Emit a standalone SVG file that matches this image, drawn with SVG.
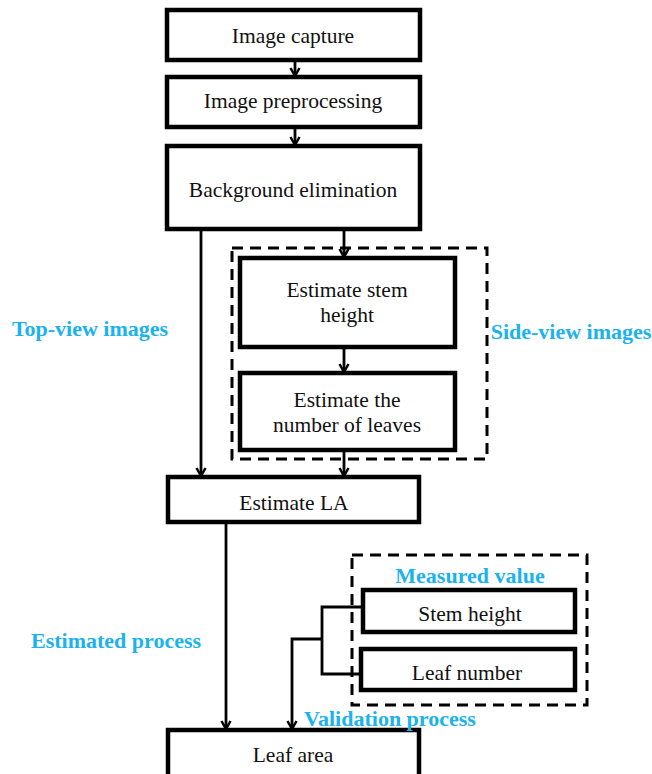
<svg xmlns="http://www.w3.org/2000/svg" width="652" height="774" viewBox="0 0 652 774">
<defs>
<marker id="ah" markerWidth="12" markerHeight="12" refX="10" refY="6" orient="auto" markerUnits="userSpaceOnUse">
<path d="M2,1.5 L10,6 L2,10.5" fill="none" stroke="#000" stroke-width="2.5"/>
</marker>
<style>
.box{fill:#fff;stroke:#000;stroke-width:4.5}
.dash{fill:none;stroke:#000;stroke-width:3;stroke-dasharray:11 7}
.t{font-family:"Liberation Serif","Times New Roman",serif;font-size:21.5px;fill:#111;text-anchor:middle}
.lbl{font-family:"Liberation Serif","Times New Roman",serif;font-size:22px;font-weight:bold;fill:#1ab2ef;text-anchor:middle}
.c{fill:none;stroke:#000;stroke-width:2.8}
</style>
</defs>
<rect width="652" height="774" fill="#fff"/>
<g id="groups">
<rect id="side-view-group" class="dash" x="232" y="248" width="255" height="211"/>
<rect id="measured-group" class="dash" x="352" y="555" width="235" height="150"/>
</g>
<g id="connectors">
<path class="c" d="M295,60 V76" marker-end="url(#ah)"/>
<path class="c" d="M295,127 V145" marker-end="url(#ah)"/>
<path class="c" d="M201,229 V476" marker-end="url(#ah)"/>
<path class="c" d="M344,229 V257" marker-end="url(#ah)"/>
<path class="c" d="M344,347 V372" marker-end="url(#ah)"/>
<path class="c" d="M344,450 V476" marker-end="url(#ah)"/>
<path class="c" d="M226,522 V729" marker-end="url(#ah)"/>
<path class="c" d="M363,607 H322 V674 H361"/>
<path class="c" d="M322,639 H292 V729" marker-end="url(#ah)"/>
</g>
<g id="n1"><rect class="box" x="167" y="10" width="253" height="50"/><text class="t" x="293" y="43">Image capture</text></g>
<g id="n2"><rect class="box" x="167" y="77" width="253" height="50"/><text class="t" x="293" y="108">Image preprocessing</text></g>
<g id="n3"><rect class="box" x="167" y="146" width="253" height="83"/><text class="t" x="293" y="197">Background elimination</text></g>
<g id="n4"><rect class="box" x="240" y="258" width="215" height="89"/><text class="t" x="347" y="297">Estimate stem</text><text class="t" x="347" y="322">height</text></g>
<g id="n5"><rect class="box" x="240" y="373" width="215" height="77"/><text class="t" x="347" y="407">Estimate the</text><text class="t" x="347" y="432">number of leaves</text></g>
<g id="n6"><rect class="box" x="168" y="477" width="251" height="45"/><text class="t" x="294" y="510">Estimate LA</text></g>
<g id="n7"><rect class="box" x="363" y="590" width="212" height="42"/><text class="t" x="470" y="621">Stem height</text></g>
<g id="n8"><rect class="box" x="361" y="649" width="214" height="41"/><text class="t" x="467" y="680">Leaf number</text></g>
<g id="n9"><rect class="box" x="168" y="730" width="251" height="52"/><text class="t" x="293" y="762">Leaf area</text></g>
<g id="labels">
<text class="lbl" x="90" y="336">Top-view images</text>
<text class="lbl" x="571" y="339">Side-view images</text>
<text class="lbl" x="116" y="648">Estimated process</text>
<text class="lbl" x="470" y="583">Measured value</text>
<text class="lbl" x="390" y="726">Validation process</text>
</g>
</svg>
